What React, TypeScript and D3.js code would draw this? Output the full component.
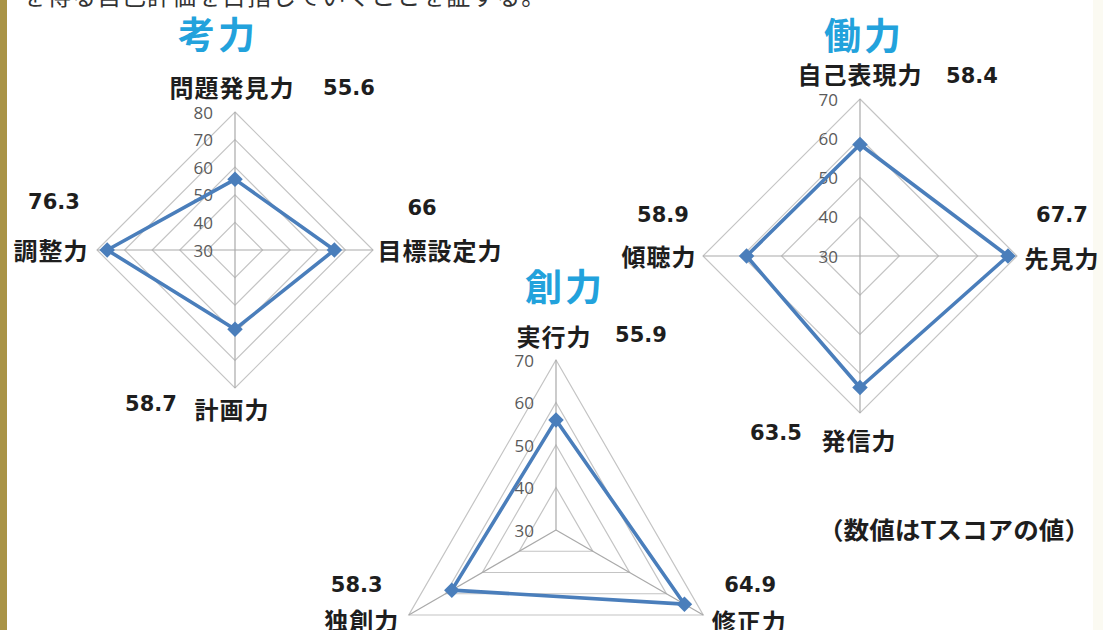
import React from "react";
import * as d3 from "d3";

// ---------- data ----------
const kouAxes = ["問題発見力", "目標設定力", "計画力", "調整力"];
const kouValues = [55.6, 66, 58.7, 76.3];
const kouTicks = [30, 40, 50, 60, 70, 80];

const souAxes = ["実行力", "修正力", "独創力"];
const souValues = [55.9, 64.9, 58.3];
const souTicks = [30, 40, 50, 60, 70];

const douAxes = ["自己表現力", "先見力", "発信力", "傾聴力"];
const douValues = [58.4, 67.7, 63.5, 58.9];
const douTicks = [30, 40, 50, 60, 70];

const titles = ["考力", "創力", "働力"];
const noteText = "（数値はTスコアの値）";
const topText = "を得る自己評価を目指していくことを証する。";

// ---------- layout (offsets relative to each axis tip) ----------
type Off = [number, number];
const kouLabelOff: Off[] = [[-3, -26], [67, -1], [-3, 20], [-46, -1]];
const kouValueOff: Off[] = [[114, -24], [49, -42], [-84, 16], [-43, -48]];
const souLabelOff: Off[] = [[-2, -25], [46, 5], [-47, 4]];
const souValueOff: Off[] = [[85, -25], [47, -30], [-52, -30]];
const douLabelOff: Off[] = [[0, -26], [45, 1], [-1, 26], [-44, -1]];
const douValueOff: Off[] = [[112, -23], [45, -41], [-84, 20], [-40, -41]];

const LINE = "#4a7ebb";
const GRID = "#c4c4c4";
const SPOKE = "#a9a9a9";
const TITLE = "#22a2dc";
const LABEL_FONT = "'Noto Sans CJK JP', 'Noto Sans', sans-serif";
const NUM_FONT = "'DejaVu Sans', sans-serif";
const TICK_FONT = "'Open Sans', 'Noto Sans', sans-serif";

interface RadarProps {
  cx: number;
  cy: number;
  R: number;
  axes: string[];
  values: number[];
  ticks: number[];
  labelOff: Off[];
  valueOff: Off[];
  title: string;
  titlePos: [number, number];
}

function Radar({ cx, cy, R, axes, values, ticks, labelOff, valueOff, title, titlePos }: RadarProps) {
  const n = axes.length;
  const r = d3.scaleLinear().domain([ticks[0], ticks[ticks.length - 1]]).range([0, R]);
  const ang = d3.scaleLinear().domain([0, n]).range([0, 2 * Math.PI]);
  const pt = (i: number, rad: number): [number, number] => [
    cx + rad * Math.sin(ang(i)),
    cy - rad * Math.cos(ang(i)),
  ];
  const ringLine = d3
    .lineRadial<number>()
    .angle((_, i) => ang(i))
    .curve(d3.curveLinearClosed);
  const idx = d3.range(n);
  const dataLine = d3
    .lineRadial<number>()
    .angle((_, i) => ang(i))
    .radius((v) => r(v))
    .curve(d3.curveLinearClosed);
  const diamond = d3.symbol(d3.symbolSquare, 120)();

  return (
    <g>
      <g transform={`translate(${cx},${cy})`}>
        {ticks.slice(1).map((t) => (
          <path
            key={t}
            d={ringLine.radius(() => r(t))(idx) || ""}
            fill="none"
            stroke={GRID}
            strokeWidth={1.2}
          />
        ))}
      </g>
      {idx.map((i) => {
        const [x, y] = pt(i, R);
        return <line key={i} x1={cx} y1={cy} x2={x} y2={y} stroke={SPOKE} strokeWidth={1.2} />;
      })}
      {ticks.map((t) => (
        <text
          key={t}
          x={cx - 22}
          y={cy - r(t)}
          textAnchor="end"
          dominantBaseline="central"
          fontFamily={TICK_FONT}
          fontSize={17}
          fill="#5a5a5a"
        >
          {t}
        </text>
      ))}
      <g transform={`translate(${cx},${cy})`}>
        <path d={dataLine(values) || ""} fill="none" stroke={LINE} strokeWidth={3.6} strokeLinejoin="round" />
      </g>
      {values.map((v, i) => {
        const [x, y] = pt(i, r(v));
        return <path key={i} d={diamond || ""} transform={`translate(${x},${y}) rotate(45)`} fill={LINE} />;
      })}
      {axes.map((a, i) => {
        const [x, y] = pt(i, R);
        return (
          <text
            key={a}
            x={x + labelOff[i][0]}
            y={y + labelOff[i][1]}
            textAnchor="middle"
            dominantBaseline="central"
            fontFamily={LABEL_FONT}
            fontWeight="bold"
            fontSize={24}
            letterSpacing={1}
            fill="#1e1e1e"
          >
            {a}
          </text>
        );
      })}
      {values.map((v, i) => {
        const [x, y] = pt(i, R);
        return (
          <text
            key={i}
            x={x + valueOff[i][0]}
            y={y + valueOff[i][1]}
            textAnchor="middle"
            dominantBaseline="central"
            fontFamily={NUM_FONT}
            fontWeight="bold"
            fontSize={21}
            fill="#1e1e1e"
          >
            {v}
          </text>
        );
      })}
      <text
        x={titlePos[0]}
        y={titlePos[1]}
        textAnchor="middle"
        dominantBaseline="central"
        fontFamily={LABEL_FONT}
        fontWeight="bold"
        fontSize={37}
        letterSpacing={3}
        fill={TITLE}
      >
        {title}
      </text>
    </g>
  );
}

export default function App() {
  return (
    <svg
      width={1103}
      height={630}
      style={{ position: "absolute", left: 0, top: 0, background: "#ffffff" }}
    >
      <rect x={0} y={0} width={1103} height={630} fill="#ffffff" />
      <rect x={0} y={0} width={7} height={630} fill="#a99346" />
      <rect x={1093} y={0} width={10} height={630} fill="#fbfaf2" />
      <text
        x={22}
        y={5}
        fontFamily={LABEL_FONT}
        fontSize={24}
        fill="#333333"
        letterSpacing={1}
      >
        {topText}
      </text>
      <Radar
        cx={235}
        cy={250}
        R={138}
        axes={kouAxes}
        values={kouValues}
        ticks={kouTicks}
        labelOff={kouLabelOff}
        valueOff={kouValueOff}
        title={titles[0]}
        titlePos={[218, 33]}
      />
      <Radar
        cx={556}
        cy={530}
        R={170}
        axes={souAxes}
        values={souValues}
        ticks={souTicks}
        labelOff={souLabelOff}
        valueOff={souValueOff}
        title={titles[1]}
        titlePos={[565, 285]}
      />
      <Radar
        cx={860}
        cy={256}
        R={157}
        axes={douAxes}
        values={douValues}
        ticks={douTicks}
        labelOff={douLabelOff}
        valueOff={douValueOff}
        title={titles[2]}
        titlePos={[864, 34]}
      />
      <text
        x={818}
        y={528}
        textLength={272}
        lengthAdjust="spacingAndGlyphs"
        dominantBaseline="central"
        fontFamily={LABEL_FONT}
        fontWeight="bold"
        fontSize={24}
        fill="#1e1e1e"
      >
        {noteText}
      </text>
    </svg>
  );
}
